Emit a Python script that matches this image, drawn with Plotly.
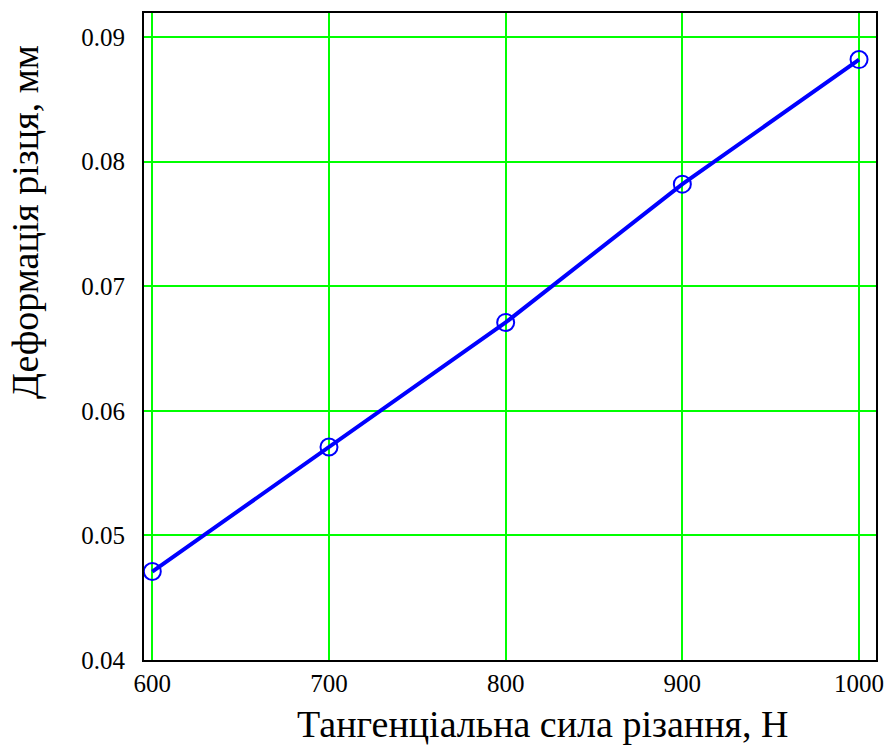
import plotly.graph_objects as go

force = [600, 700, 800, 900, 1000]
deform = [0.0471, 0.0571, 0.0671, 0.0782, 0.0882]
x_ticks = [600, 700, 800, 900, 1000]
y_ticks = [0.04, 0.05, 0.06, 0.07, 0.08, 0.09]
y_tick_labels = ["0.04", "0.05", "0.06", "0.07", "0.08", "0.09"]
x_title = "Тангенціальна сила різання, Н"
y_title = "Деформація різця, мм"

fig = go.Figure()
fig.add_trace(go.Scatter(
    x=force, y=deform, mode="lines+markers",
    line=dict(color="#0000ff", width=4),
    marker=dict(symbol="circle-open", size=17, color="#0000ff", line=dict(width=2, color="#0000ff")),
    showlegend=False,
))

font = "Liberation Serif"
L, R, T, B = 144, 14, 13, 85
W, H = 890, 745
pw = W - L - R
ph = H - T - B
fig.update_layout(
    width=W, height=H,
    margin=dict(l=L, r=R, t=T, b=B),
    paper_bgcolor="white", plot_bgcolor="white",
    font=dict(family=font, color="black", size=25),
)
fig.update_xaxes(
    range=[595.3, 1009.6], tickvals=x_ticks, ticktext=[str(v) for v in x_ticks],
    showgrid=True, gridcolor="#00ff00", gridwidth=2,
    showline=True, linecolor="black", linewidth=2, mirror=True,
    ticks="", zeroline=False, tickfont=dict(family=font, size=25), automargin=False,
)
fig.update_yaxes(
    range=[0.04, 0.09194], tickvals=y_ticks, ticktext=y_tick_labels,
    showgrid=True, gridcolor="#00ff00", gridwidth=2,
    showline=True, linecolor="black", linewidth=2, mirror=True,
    ticks="", zeroline=False, tickfont=dict(family=font, size=25), ticklabelstandoff=12,
    automargin=False,
)
fig.add_annotation(
    text=x_title, xref="paper", yref="paper",
    x=(542 - L) / pw, y=0, xanchor="center", yanchor="middle", yshift=-64,
    showarrow=False, font=dict(family=font, size=38, color="black"),
)
fig.add_annotation(
    text=y_title, xref="paper", yref="paper", textangle=-90,
    x=0, y=(H - B - 222) / ph, xanchor="center", yanchor="middle", xshift=-(L - 25),
    showarrow=False, font=dict(family=font, size=38, color="black"),
)
fig.write_html("out.html")
